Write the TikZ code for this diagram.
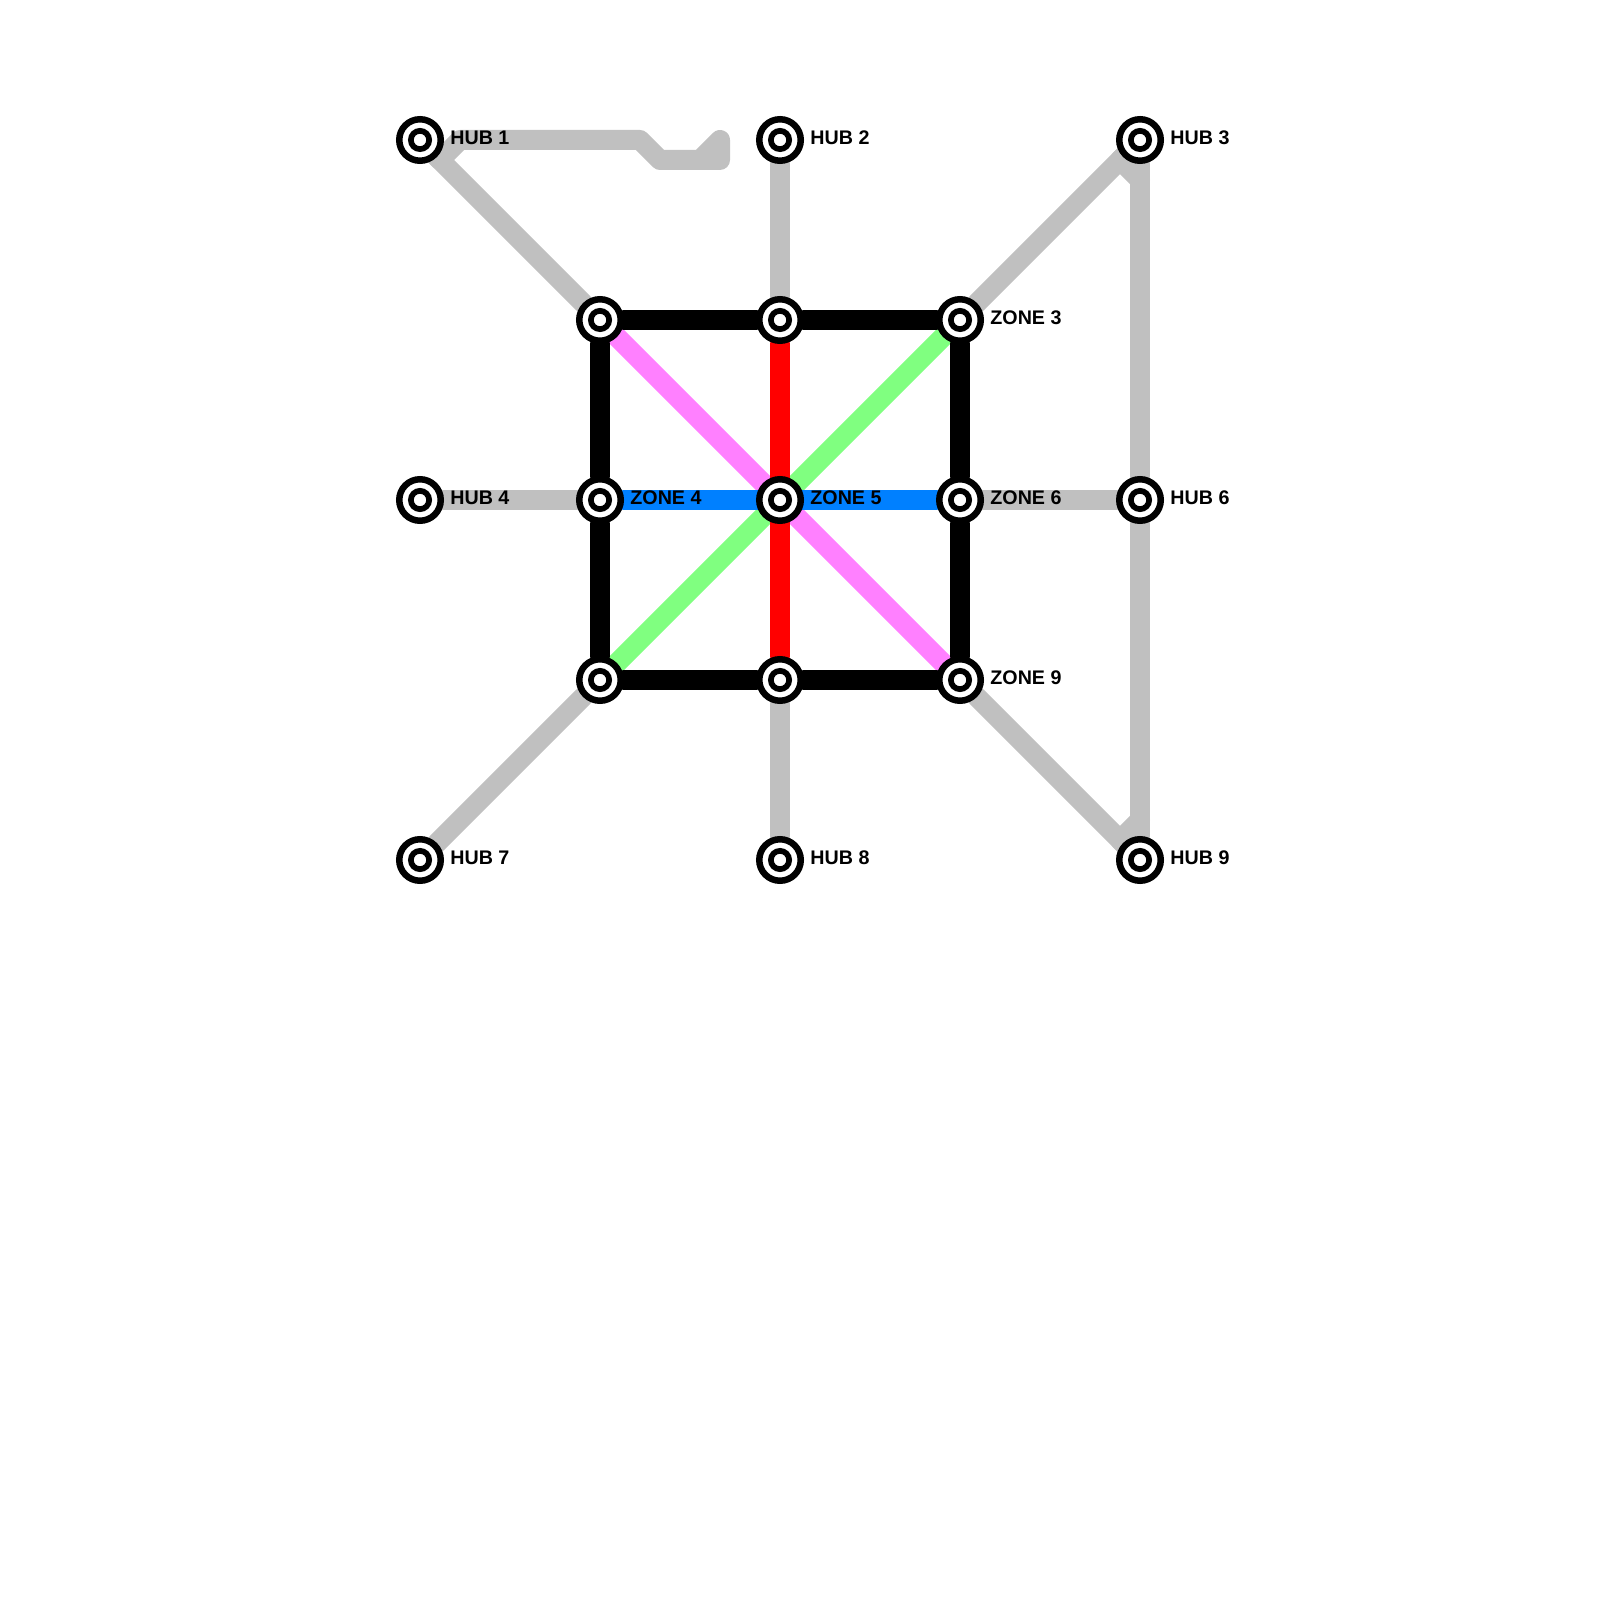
\documentclass[tikz,border=0pt]{standalone}
\usepackage{fontspec}
\setmainfont{Liberation Sans}
\usetikzlibrary{backgrounds}
\definecolor{linkgray}{HTML}{C0C0C0}
\definecolor{linkpink}{HTML}{FF80FF}
\definecolor{linkgreen}{HTML}{80FF80}
\definecolor{linkblue}{HTML}{0080FF}

\begin{document}
\begin{tikzpicture}[
  station/.style={circle, draw=black, fill=white, line width=0.065cm, minimum size=0.415cm, inner sep=0pt,
    path picture={\draw[black, line width=0.057cm] (path picture bounding box.center) circle (0.0915cm);}},
  tag/.style={anchor=west, inner sep=0pt, font=\fontsize{5.6}{6}\selectfont\bfseries},
  link/.style={line width=0.2cm, line join=round, line cap=round},
  hublink/.style={link, linkgray},
  ringlink/.style={link, black}]
  \useasboundingbox (0,0) rectangle (16,-16);
  \node[station] (hub1) at (4.2,-1.4) {};
  \node[station] (hub2) at (7.8,-1.4) {};
  \node[station] (hub3) at (11.4,-1.4) {};
  \node[station] (zone1) at (6,-3.2) {};
  \node[station] (zone2) at (7.8,-3.2) {};
  \node[station] (zone3) at (9.6,-3.2) {};
  \node[station] (hub4) at (4.2,-5) {};
  \node[station] (zone4) at (6,-5) {};
  \node[station] (zone5) at (7.8,-5) {};
  \node[station] (zone6) at (9.6,-5) {};
  \node[station] (hub6) at (11.4,-5) {};
  \node[station] (zone7) at (6,-6.8) {};
  \node[station] (zone8) at (7.8,-6.8) {};
  \node[station] (zone9) at (9.6,-6.8) {};
  \node[station] (hub7) at (4.2,-8.6) {};
  \node[station] (hub8) at (7.8,-8.6) {};
  \node[station] (hub9) at (11.4,-8.6) {};
  % bends of the gray routes
  \coordinate (a1) at (4.4,-1.6);
  \coordinate (a2) at (4.6,-1.4);
  \coordinate (a3) at (6.4,-1.4);
  \coordinate (a4) at (6.6,-1.6);
  \coordinate (a5) at (7.2,-1.6);
  \coordinate (a6) at (7.2,-1.4);
  \coordinate (a7) at (7,-1.6);
  \coordinate (b1) at (11.2,-1.6);
  \coordinate (b2) at (11.4,-1.8);
  \coordinate (b3) at (11.4,-8.2);
  \coordinate (b4) at (11.2,-8.4);
  \begin{scope}[on background layer]
    \draw[hublink] (hub1.center) -- (a1) -- (a2) -- (a3) -- (a4) -- (a5) -- (a6) -- (a7);
    \draw[hublink] (hub1) -- (zone1);
    \draw[hublink] (hub2) -- (zone2);
    \draw[hublink] (hub3) -- (zone3);
    \draw[hublink] (hub3.center) -- (b1) -- (b2);
    \draw[hublink] (hub3) -- (hub6);
    \draw[hublink] (hub6) -- (hub9);
    \draw[hublink] (b3) -- (b4) -- (hub9.center);
    \draw[hublink] (hub4) -- (zone4);
    \draw[hublink] (zone6) -- (hub6);
    \draw[hublink] (hub7) -- (zone7);
    \draw[hublink] (zone8) -- (hub8);
    \draw[hublink] (zone9) -- (hub9);
    \draw[link, linkpink] (zone1) -- (zone9);
    \draw[link, linkgreen] (zone3) -- (zone7);
    \draw[link, linkblue] (zone4) -- (zone6);
    \draw[link, red] (zone2) -- (zone8);
    \draw[ringlink] (zone1) -- (zone2);
    \draw[ringlink] (zone2) -- (zone3);
    \draw[ringlink] (zone3) -- (zone6);
    \draw[ringlink] (zone6) -- (zone9);
    \draw[ringlink] (zone9) -- (zone8);
    \draw[ringlink] (zone8) -- (zone7);
    \draw[ringlink] (zone7) -- (zone4);
    \draw[ringlink] (zone4) -- (zone1);
  \end{scope}
  \node[tag] (label1) at (4.497,-1.376) {HUB 1};
  \node[tag] (label2) at (8.097,-1.376) {HUB 2};
  \node[tag] (label3) at (11.697,-1.376) {HUB 3};
  \node[tag] (label4) at (9.897,-3.176) {ZONE 3};
  \node[tag] (label5) at (4.497,-4.976) {HUB 4};
  \node[tag] (label6) at (6.297,-4.976) {ZONE 4};
  \node[tag] (label7) at (8.097,-4.976) {ZONE 5};
  \node[tag] (label8) at (9.897,-4.976) {ZONE 6};
  \node[tag] (label9) at (11.697,-4.976) {HUB 6};
  \node[tag] (label10) at (9.897,-6.776) {ZONE 9};
  \node[tag] (label11) at (4.497,-8.576) {HUB 7};
  \node[tag] (label12) at (8.097,-8.576) {HUB 8};
  \node[tag] (label13) at (11.697,-8.576) {HUB 9};
\end{tikzpicture}
\end{document}
